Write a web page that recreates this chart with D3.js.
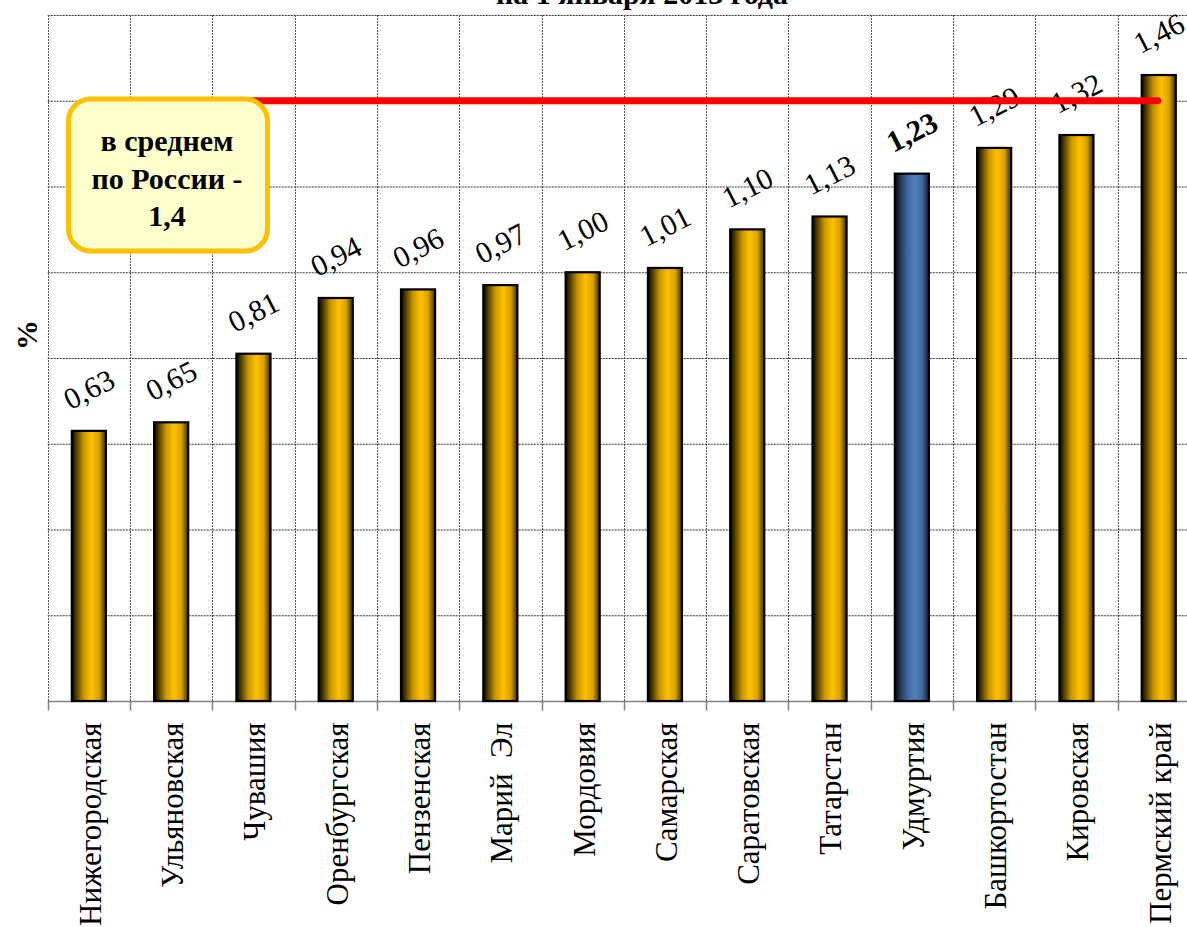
<!DOCTYPE html>
<html><head><meta charset="utf-8">
<script src="https://cdn.jsdelivr.net/npm/d3@7"></script>
<style>body{margin:0;background:#fff;overflow:hidden}svg{display:block}</style>
</head><body>
<svg id="c" width="1187" height="927"></svg>
<script>
const categories = ["Нижегородская","Ульяновская","Чувашия","Оренбургская","Пензенская","Марий  Эл","Мордовия","Самарская","Саратовская","Татарстан","Удмуртия","Башкортостан","Кировская","Пермский край"];
const values = [0.63,0.65,0.81,0.94,0.96,0.97,1.00,1.01,1.10,1.13,1.23,1.29,1.32,1.46];
const valueLabels = ["0,63","0,65","0,81","0,94","0,96","0,97","1,00","1,01","1,10","1,13","1,23","1,29","1,32","1,46"];
const highlighted = ["Удмуртия"];
const russiaAverage = 1.4;
const calloutLines = ["в среднем","по России -","1,4"];
const titleText = "на 1 января 2013 года";
const yTicks = [0,0.2,0.4,0.6,0.8,1.0,1.2,1.4,1.6];

const FONT = "'Liberation Serif','Times New Roman',serif";
const svg = d3.select("#c");
const L = 47.7, R = 47.7 + 82.3*14, T = 15, B = 701;
const x = d3.scaleBand().domain(categories).range([L, R]).paddingInner(0.586).paddingOuter(0.293);
const xb = d3.scaleBand().domain(categories).range([L, R]);
const y = d3.scaleLinear().domain([0,1.6]).range([B, T]);

const defs = svg.append("defs");
function grad(id, stops){
  const g = defs.append("linearGradient").attr("id", id).attr("x1","0").attr("x2","1").attr("y1","0").attr("y2","0");
  stops.forEach(s=>g.append("stop").attr("offset",s[0]).attr("stop-color",s[1]));
}
grad("gold", [[0,"#000000"],[0.12,"#4a3700"],[0.35,"#c99700"],[0.58,"#FFC000"],[0.8,"#d9a400"],[1,"#3a2b00"]]);
grad("blue", [[0,"#000000"],[0.12,"#1c2d44"],[0.35,"#3d6494"],[0.58,"#4F81BD"],[0.8,"#41699b"],[1,"#14202f"]]);

// title (cut at top, as in the reference)
svg.append("text").attr("x", 642).attr("y", 4).attr("text-anchor","middle")
  .attr("font-family",FONT).attr("font-weight","bold").attr("font-size",30).text(titleText);

// horizontal gridlines
svg.append("g").selectAll("line").data(yTicks.filter(d=>d>0)).join("line")
  .attr("x1", L).attr("x2", R).attr("y1", d=>y(d)+0.5).attr("y2", d=>y(d)+0.5)
  .attr("stroke","#333").attr("stroke-width",1).attr("stroke-dasharray","2,1");
// vertical gridlines
const bounds = categories.map(c=>xb(c));
svg.append("g").selectAll("line").data(bounds).join("line")
  .attr("x1", d=>Math.round(d)+0.5).attr("x2", d=>Math.round(d)+0.5).attr("y1", T).attr("y2", B)
  .attr("stroke","#555").attr("stroke-width",1).attr("stroke-dasharray","2,1");

// x axis
const xAxisG = svg.append("g").attr("transform",`translate(0,${B+0.5})`);
xAxisG.append("line").attr("x1",L).attr("x2",R).attr("stroke","#808080").attr("stroke-width",1.5);
xAxisG.selectAll("line.tk").data(bounds).join("line").attr("class","tk")
  .attr("x1", d=>Math.round(d)+0.5).attr("x2", d=>Math.round(d)+0.5).attr("y1",0).attr("y2",9)
  .attr("stroke","#808080").attr("stroke-width",1.5);
xAxisG.selectAll("text").data(categories).join("text")
  .attr("transform", d=>`translate(${x(d)+x.bandwidth()/2+1},21) rotate(-90)`)
  .attr("text-anchor","end").attr("dy","0.35em")
  .attr("font-family",FONT).attr("font-size",31).attr("fill","#000")
  .style("white-space","pre").text(d=>d);

// bars
svg.append("g").selectAll("rect").data(categories).join("rect")
  .attr("x", d=>x(d)).attr("width", x.bandwidth())
  .attr("y", (d,i)=>y(values[i])).attr("height",(d,i)=>B - y(values[i]))
  .attr("fill", d=>highlighted.includes(d)?"url(#blue)":"url(#gold)")
  .attr("stroke","#000").attr("stroke-width",2.2);

// value labels
svg.append("g").selectAll("text").data(categories).join("text")
  .attr("transform",(d,i)=>`translate(${x(d)+x.bandwidth()/2},${y(values[i])-42}) rotate(-27)`)
  .attr("text-anchor","middle").attr("dy","0.35em")
  .attr("font-family",FONT).attr("font-size",30)
  .attr("font-weight", d=>highlighted.includes(d)?"bold":"normal")
  .text((d,i)=>valueLabels[i]);

// average line
const cx0 = x(categories[0]) + x.bandwidth()/2;
const cx1 = x(categories[categories.length-1]) + x.bandwidth()/2 - 1;
svg.append("line").attr("x1",cx0).attr("x2",cx1).attr("y1",y(russiaAverage)).attr("y2",y(russiaAverage))
  .attr("stroke","#FF0000").attr("stroke-width",7).attr("stroke-linecap","round");

// callout
svg.append("rect").attr("x",68.5).attr("y",99).attr("width",199).attr("height",152).attr("rx",22)
  .attr("fill","#FFFFCC").attr("stroke","#FFC000").attr("stroke-width",5);
svg.append("g").selectAll("text").data(calloutLines).join("text")
  .attr("x",167).attr("y",(d,i)=>151+i*37.5).attr("text-anchor","middle")
  .attr("font-family",FONT).attr("font-weight","bold").attr("font-size",30).text(d=>d);

// y label
svg.append("text").attr("transform","translate(37,335) rotate(-90)").attr("text-anchor","middle")
  .attr("font-family",FONT).attr("font-weight","bold").attr("font-size",30).text("%");
</script>
</body></html>
